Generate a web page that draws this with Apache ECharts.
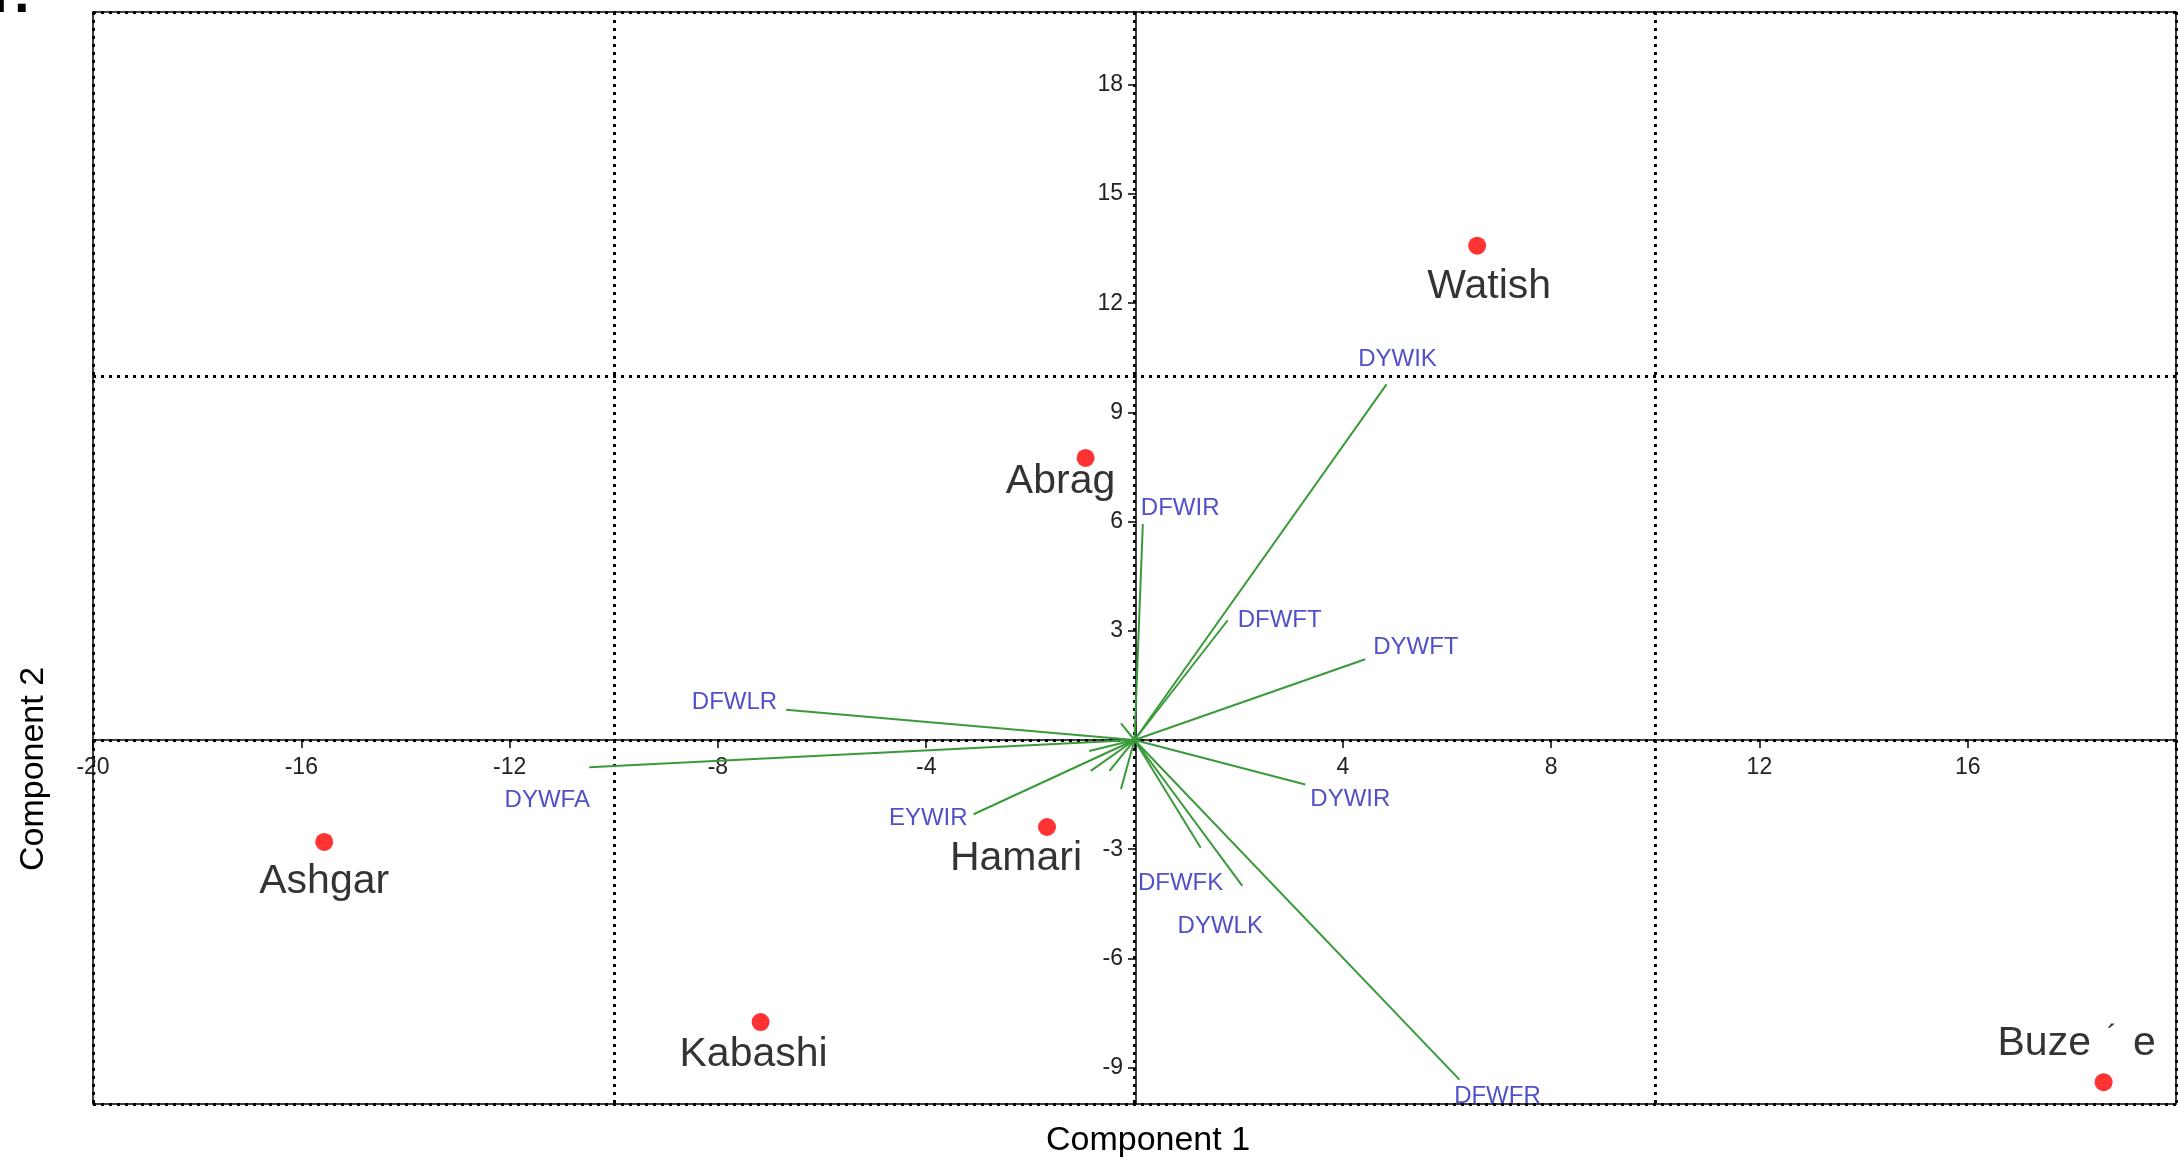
<!DOCTYPE html>
<html><head><meta charset="utf-8">
<script src="https://cdn.jsdelivr.net/npm/echarts@6/dist/echarts.min.js"></script>
<style>html,body{margin:0;padding:0;background:#fff}#c{width:2179px;height:1160px}</style>
</head><body><div id="c"></div>
<script>
// ---- data ----
const siteNames = ['Watish', 'Abrag', 'Ashgar', 'Hamari', 'Kabashi', 'Buze´e'];
const siteX = [6.58, -0.94, -15.56, -1.68, -7.18, 18.61];
const siteY = [13.58, 7.75, -2.80, -2.39, -7.75, -9.40];

const varNames = ['DYWIK', 'DFWIR', 'DFWFT', 'DYWFT', 'DFWLR', 'DYWFA', 'EYWIR', 'DYWIR', 'DFWFK', 'DYWLK', 'DFWFR', '', '', '', '', ''];
const varX = [4.84, 0.16, 1.79, 4.43, -6.69, -10.47, -3.09, 3.28, 1.27, 2.07, 6.24, -0.26, -0.87, -0.84, -0.48, -0.26];
const varY = [9.77, 5.93, 3.29, 2.22, 0.83, -0.75, -2.04, -1.22, -2.96, -4.01, -9.33, 0.46, -0.30, -0.85, -0.85, -1.35];

const xTickLabels = [-20, -16, -12, -8, -4, 4, 8, 12, 16];
const yTickLabels = [-9, -6, -3, 3, 6, 9, 12, 15, 18];
const xTitle = 'Component 1';
const yTitle = 'Component 2';

// ---- label placement (style only) ----
const siteLabelOffset = {
  'Watish': [12, 41], 'Abrag': [-25, 24], 'Ashgar': [0, 40],
  'Hamari': [-31, 32], 'Kabashi': [-7, 33], 'Buze´e': [-27, -38]
};
const varLabelPlace = {
  DYWIK: { align: 'center', off: [11, -25] },
  DFWIR: { align: 'left', off: [-2, -16] },
  DFWFT: { align: 'left', off: [10, 0] },
  DYWFT: { align: 'left', off: [8, -12] },
  DFWLR: { align: 'right', off: [-9, -7] },
  DYWFA: { align: 'center', off: [-42, 33] },
  EYWIR: { align: 'right', off: [-6, 4] },
  DYWIR: { align: 'left', off: [5, 15] },
  DFWFK: { align: 'center', off: [-20, 36] },
  DYWLK: { align: 'center', off: [-22, 40] },
  DFWFR: { align: 'center', off: [38, 17] }
};

const FONT = 'Arial, "Liberation Sans", sans-serif';
const dotted = { type: [3, 5], width: 3, color: '#000' };

// layout of the grid (pixels)
const G = { left: 93, right: 0, top: 12, bottom: 56 };
const W = 2179, H = 1160;
const X_MIN = -20, X_MAX = 20, Y_MIN = -10, Y_MAX = 20;
// offsets moving the labelled axes onto the zero lines
const xAxisShift = -(H - G.top - G.bottom) * (0 - Y_MIN) / (Y_MAX - Y_MIN);
const yAxisShift = -(W - G.left - G.right) * (0 - X_MIN) / (X_MAX - X_MIN);

const chart = echarts.init(document.getElementById('c'), null, { renderer: 'canvas' });

const option = {
  animation: false,
  backgroundColor: '#fff',
  grid: Object.assign({ show: true, borderColor: '#000', borderWidth: 1.5 }, G),
  xAxis: [
    {
      type: 'value', min: X_MIN, max: X_MAX, interval: 4, position: 'bottom', offset: xAxisShift,
      axisLine: { onZero: false, lineStyle: { color: '#000', width: 1.5 } },
      axisTick: { show: true, length: 8, lineStyle: { color: '#000', width: 1.5 } },
      axisLabel: { fontSize: 23, color: '#222', margin: 16, fontFamily: FONT,
        formatter: (v) => (xTickLabels.indexOf(v) >= 0 ? String(v) : '') },
      splitLine: { show: false }
    },
    {
      type: 'value', min: X_MIN, max: X_MAX, interval: 10, position: 'top',
      axisLine: { show: false }, axisTick: { show: false }, axisLabel: { show: false },
      splitLine: { show: true, lineStyle: dotted }
    }
  ],
  yAxis: [
    {
      type: 'value', min: Y_MIN, max: Y_MAX, position: 'left', offset: yAxisShift,
      axisLine: { onZero: false, lineStyle: { color: '#000', width: 1.5 } },
      axisTick: { show: true, length: 8, customValues: yTickLabels, lineStyle: { color: '#000', width: 1.5 } },
      axisLabel: { customValues: yTickLabels, fontSize: 23, color: '#222', margin: 13, fontFamily: FONT },
      splitLine: { show: false }
    },
    {
      type: 'value', min: Y_MIN, max: Y_MAX, interval: 10, position: 'right',
      axisLine: { show: false }, axisTick: { show: false }, axisLabel: { show: false },
      splitLine: { show: true, lineStyle: dotted }
    }
  ],
  series: [
    {
      type: 'lines', coordinateSystem: 'cartesian2d', xAxisIndex: 0, yAxisIndex: 0,
      silent: true, z: 3,
      lineStyle: { color: '#3a9a3a', width: 2, opacity: 1, curveness: 0 },
      data: varX.map((x, i) => ({ coords: [[0, 0], [x, varY[i]]] }))
    },
    {
      type: 'scatter', xAxisIndex: 0, yAxisIndex: 0, z: 4, silent: true,
      symbolSize: 1, itemStyle: { color: 'transparent' },
      data: varNames.map((n, i) => {
        const p = varLabelPlace[n] || { align: 'center', off: [0, 0] };
        return {
          name: n, value: [varX[i], varY[i]],
          label: {
            show: n !== '', position: 'inside', align: p.align, verticalAlign: 'middle',
            offset: p.off, formatter: '{b}', fontSize: 24, color: '#2424bb', fontFamily: FONT
          }
        };
      })
    },
    {
      type: 'scatter', xAxisIndex: 0, yAxisIndex: 0, z: 5, silent: true,
      symbolSize: 18, itemStyle: { color: '#ff0000' },
      data: siteNames.map((n, i) => ({
        name: n, value: [siteX[i], siteY[i]],
        label: {
          show: true, position: 'inside', align: 'center', verticalAlign: 'middle',
          offset: siteLabelOffset[n] || [0, 36],
          fontSize: 41, color: '#000', fontFamily: FONT,
          formatter: (prm) => {
            const parts = prm.name.split('´');
            return parts.length > 1 ? '{t|' + parts[0] + '}{a|´}{t|' + parts[1] + '}' : prm.name;
          },
          rich: {
            t: { fontSize: 41, color: '#000', fontFamily: FONT },
            a: { fontSize: 30, color: '#000', fontFamily: FONT, padding: [0, 16, 14, 16] }
          }
        }
      }))
    }
  ],
  graphic: [
    { type: 'text', x: 1148, y: 1141, style: { text: xTitle, font: '34px ' + FONT, fill: '#000', align: 'center', verticalAlign: 'middle' } },
    { type: 'text', x: 34, y: 769, rotation: Math.PI / 2, style: { text: yTitle, font: '34px ' + FONT, fill: '#000', align: 'center', verticalAlign: 'middle' } },
    { type: 'text', x: -8, y: -3, style: { text: 'I', font: 'bold 56px ' + FONT, fill: '#000', align: 'left', verticalAlign: 'middle' } },
    { type: 'text', x: 14, y: -3, style: { text: '.', font: 'bold 56px ' + FONT, fill: '#000', align: 'left', verticalAlign: 'middle' } }
  ]
};
chart.setOption(option);
</script>
</body></html>
